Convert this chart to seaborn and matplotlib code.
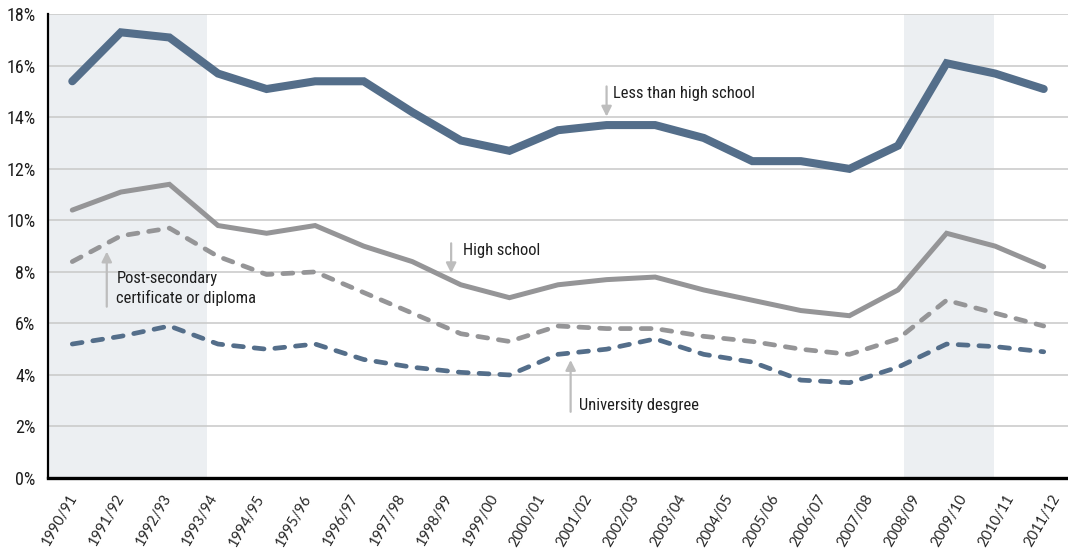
import numpy as np
import pandas as pd
import matplotlib
matplotlib.use("Agg")
import matplotlib.pyplot as plt
from matplotlib import font_manager
import seaborn as sns

# ---------------- data ----------------
years = ["1990/91", "1991/92", "1992/93", "1993/94", "1994/95", "1995/96", "1996/97",
         "1997/98", "1998/99", "1999/00", "2000/01", "2001/02", "2002/03", "2003/04",
         "2004/05", "2005/06", "2006/07", "2007/08", "2008/09", "2009/10", "2010/11",
         "2011/12"]
less_than_high_school = [15.4, 17.3, 17.1, 15.7, 15.1, 15.4, 15.4, 14.2, 13.1, 12.7, 13.5,
                         13.7, 13.7, 13.2, 12.3, 12.3, 12.0, 12.9, 16.1, 15.7, 15.1]
high_school = [10.4, 11.1, 11.4, 9.8, 9.5, 9.8, 9.0, 8.4, 7.5, 7.0, 7.5,
               7.7, 7.8, 7.3, 6.9, 6.5, 6.3, 7.3, 9.5, 9.0, 8.2]
post_secondary = [8.4, 9.4, 9.7, 8.6, 7.9, 8.0, 7.2, 6.4, 5.6, 5.3, 5.9,
                  5.8, 5.8, 5.5, 5.3, 5.0, 4.8, 5.4, 6.9, 6.4, 5.9]
university = [5.2, 5.5, 5.9, 5.2, 5.0, 5.2, 4.6, 4.3, 4.1, 4.0, 4.8,
              5.0, 5.4, 4.8, 4.5, 3.8, 3.7, 4.3, 5.2, 5.1, 4.9]
y_ticks = [0, 2, 4, 6, 8, 10, 12, 14, 16, 18]
y_tick_labels = ["0%", "2%", "4%", "6%", "8%", "10%", "12%", "14%", "16%", "18%"]

# ---------------- style ----------------
sns.set_theme(style="white")
available = {f.name for f in font_manager.fontManager.ttflist}
cond = None
for cand in ["Liberation Sans Narrow", "Roboto Condensed", "Open Sans Condensed", "Roboto"]:
    if cand in available:
        cond = cand
        break
if cond is None:
    cond = "DejaVu Sans"
narrow = cond in ("Liberation Sans Narrow", "Roboto Condensed", "Open Sans Condensed")
plt.rcParams['font.family'] = [cond, 'DejaVu Sans']
ann_size = 11.9 if narrow else 10
ytick_size = 13 if narrow else 11.5

BLUE = "#546e8a"
GRAY = "#959597"
SHADE = "#eceff2"
ARROW = "#bdbdbd"
TEXT = "#1e1e1e"

fig = plt.figure(figsize=(10.68, 5.54), dpi=100)
ax = fig.add_axes([48 / 1068, (554 - 478) / 554, 1 - 48 / 1068, (478 - 14.3) / 554])

x = np.arange(len(less_than_high_school))
df = pd.DataFrame({"x": x, "less": less_than_high_school, "hs": high_school,
                   "post": post_secondary, "uni": university})

ax.axvspan(-0.5, 2.78, color=SHADE, zorder=0, lw=0)
ax.axvspan(17.12, 18.97, color=SHADE, zorder=0, lw=0)

dash = (0, (2.1, 2.3))
sns.lineplot(data=df, x="x", y="uni", ax=ax, color=BLUE, lw=3.4, linestyle=dash, zorder=3)
sns.lineplot(data=df, x="x", y="post", ax=ax, color=GRAY, lw=3.4, linestyle=dash, zorder=3)
sns.lineplot(data=df, x="x", y="hs", ax=ax, color=GRAY, lw=3.6, zorder=3)
sns.lineplot(data=df, x="x", y="less", ax=ax, color=BLUE, lw=5.8, zorder=4)
for ln in ax.lines:
    ln.set_dash_capstyle("round")
    ln.set_solid_capstyle("round")
    ln.set_solid_joinstyle("miter")

ax.set_xlim(-0.5, 20.5)
ax.set_ylim(0, 18)
ax.set_xlabel("")
ax.set_ylabel("")

ax.set_axisbelow(True)
ax.set_yticks(y_ticks)
ax.set_yticklabels(y_tick_labels, fontsize=ytick_size, color=TEXT)
ax.yaxis.grid(True, color="#c8c8c8", lw=1.1, zorder=1)
ax.xaxis.grid(False)

tick_pos = -0.09 + 0.964 * np.arange(len(years))
ax.set_xticks(tick_pos)
ax.set_xticklabels(years, rotation=60, ha="right", va="top", rotation_mode="anchor",
                   fontsize=10.5, color="#262626", family=["Lato", "DejaVu Sans"])
ax.tick_params(axis="x", length=0, pad=10)
ax.tick_params(axis="y", length=0, pad=9)

for side in ["top", "right"]:
    ax.spines[side].set_visible(False)
ax.spines["left"].set_color("black")
ax.spines["left"].set_linewidth(1.6)
ax.spines["bottom"].set_color("black")
ax.spines["bottom"].set_linewidth(2.4)

# ---------------- annotations ----------------
aprops = dict(arrowstyle="-|>", color=ARROW, lw=1.6, mutation_scale=15,
              shrinkA=0, shrinkB=0)
ax.annotate("", xy=(11.0, 14.03), xytext=(11.0, 15.2), arrowprops=aprops, zorder=5)
ax.text(11.14, 14.94, "Less than high school", fontsize=ann_size, color=TEXT, va="center", ha="left")

ax.annotate("", xy=(7.8, 7.95), xytext=(7.8, 9.11), arrowprops=aprops, zorder=5)
ax.text(8.05, 8.83, "High school", fontsize=ann_size, color=TEXT, va="center", ha="left")

ax.annotate("", xy=(0.71, 8.79), xytext=(0.71, 6.65), arrowprops=aprops, zorder=5)
ax.text(0.91, 7.35, "Post-secondary\ncertificate or diploma", fontsize=ann_size, color=TEXT,
        va="center", ha="left", linespacing=1.3)

ax.annotate("", xy=(10.26, 4.58), xytext=(10.26, 2.57), arrowprops=aprops, zorder=5)
ax.text(10.43, 2.83, "University desgree", fontsize=ann_size, color=TEXT, va="center", ha="left")

fig.savefig("out.png", dpi=100)
